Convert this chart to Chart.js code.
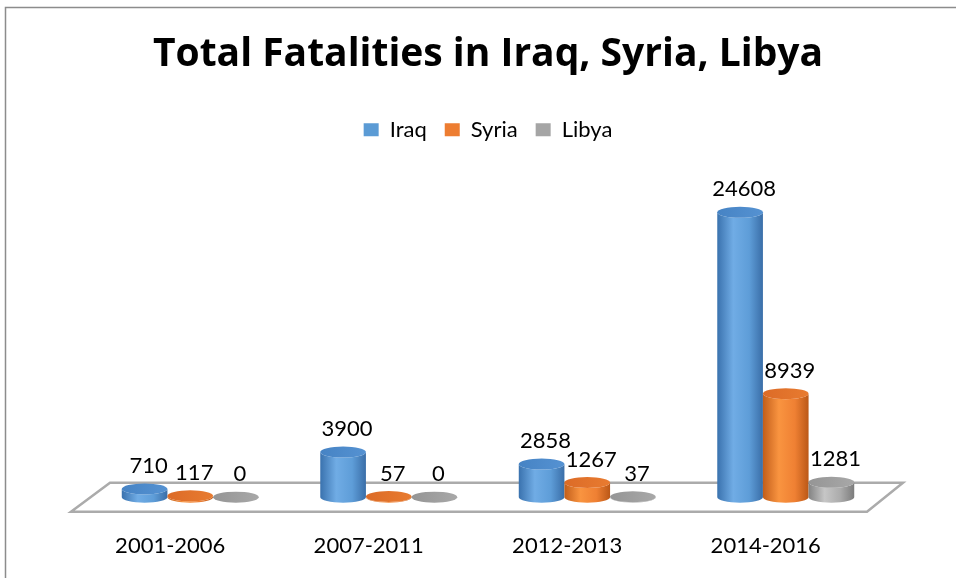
<!DOCTYPE html>
<html><head><meta charset="utf-8">
<script src="https://cdn.jsdelivr.net/npm/chart.js@4.4.1/dist/chart.umd.min.js"></script>
<style>html,body{margin:0;padding:0;background:#fff;}canvas{display:block;}</style>
</head><body>
<canvas id="c" width="956" height="578"></canvas>
<script>
const categories = ['2001-2006', '2007-2011', '2012-2013', '2014-2016'];
const seriesNames = ['Iraq', 'Syria', 'Libya'];
const iraq = [710, 3900, 2858, 24608];
const syria = [117, 57, 1267, 8939];
const libya = [0, 0, 37, 1281];
const colors = ['#5B9BD5', '#ED7D31', '#A5A5A5'];

const cylStyles = [
  {edge:'#3a72ae', light:'#70ace5', mid:'#5e9dd8', edge2:'#3a6ea8', top1:'#4683c4', top2:'#5592d2'},
  {edge:'#c25e1b', light:'#f99440', mid:'#ef8033', edge2:'#bb5817', top1:'#dc6b27', top2:'#e87b30'},
  {edge:'#838383', light:'#c6c6c6', mid:'#ababab', edge2:'#7c7c7c', top1:'#959595', top2:'#a8a8a8'}
];

function drawCyl(ctx, x, top, base, w, st) {
  const rx = w / 2, ry = 5.5, l = x - rx, r = x + rx;
  const g = ctx.createLinearGradient(l, 0, r, 0);
  g.addColorStop(0, st.edge); g.addColorStop(0.35, st.light);
  g.addColorStop(0.7, st.mid); g.addColorStop(1, st.edge2);
  ctx.beginPath();
  ctx.moveTo(l, top);
  ctx.lineTo(l, base);
  ctx.ellipse(x, base, rx, ry, 0, Math.PI, 0, true);
  ctx.lineTo(r, top);
  ctx.ellipse(x, top, rx, ry, 0, 0, Math.PI, false);
  ctx.closePath();
  ctx.fillStyle = g; ctx.fill();
  const gt = ctx.createLinearGradient(l, 0, r, 0);
  gt.addColorStop(0, st.top1); gt.addColorStop(1, st.top2);
  ctx.beginPath();
  ctx.ellipse(x, top, rx, ry, 0, 0, 2 * Math.PI);
  ctx.fillStyle = gt; ctx.fill();
}

const cylPlugin = {
  id: 'cyl',
  beforeDraw(chart) {
    const ctx = chart.ctx;
    ctx.save();
    ctx.strokeStyle = '#8c8c8c'; ctx.lineWidth = 1.5;
    ctx.beginPath(); ctx.moveTo(5.5, chart.height); ctx.lineTo(5.5, 7.5); ctx.lineTo(chart.width, 7.5); ctx.stroke();
    ctx.restore();
  },
  beforeDatasetsDraw(chart) {
    const ctx = chart.ctx, ca = chart.chartArea;
    const y0 = chart.scales.y.getPixelForValue(0);
    ctx.save();
    ctx.beginPath();
    ctx.moveTo(ca.left + 19, y0 - 14.5);
    ctx.lineTo(ca.right + 18, y0 - 14.5);
    ctx.lineTo(ca.right - 18, y0 + 14.5);
    ctx.lineTo(ca.left - 20, y0 + 14.5);
    ctx.closePath();
    ctx.fillStyle = '#ffffff'; ctx.fill();
    ctx.strokeStyle = '#ababab'; ctx.lineWidth = 2.5; ctx.stroke();
    chart.data.datasets.forEach((ds, di) => {
      const meta = chart.getDatasetMeta(di);
      meta.data.forEach((bar) => {
        drawCyl(ctx, bar.x, bar.y, bar.base, bar.width, cylStyles[di]);
      });
    });
    ctx.font = '22px Lato';
    ctx.fillStyle = '#000';
    ctx.textAlign = 'center';
    ctx.textBaseline = 'alphabetic';
    chart.data.datasets.forEach((ds, di) => {
      const meta = chart.getDatasetMeta(di);
      meta.data.forEach((bar, i) => {
        ctx.fillText(String(ds.data[i]), bar.x + 4, bar.y - 16);
      });
    });
    ctx.restore();
    return false;
  }
};

new Chart(document.getElementById('c'), {
  type: 'bar',
  data: {
    labels: categories,
    datasets: [
      {label: seriesNames[0], data: iraq, backgroundColor: colors[0]},
      {label: seriesNames[1], data: syria, backgroundColor: colors[1]},
      {label: seriesNames[2], data: libya, backgroundColor: colors[2]}
    ]
  },
  options: {
    responsive: false,
    animation: false,
    layout: {padding: {left: 91, right: 71, top: 0, bottom: 7}},
    datasets: {bar: {categoryPercentage: 0.69, barPercentage: 1, borderWidth: 0}},
    plugins: {
      title: {display: true, text: 'Total Fatalities in Iraq, Syria, Libya',
        font: {family: 'Open Sans', size: 39, weight: 'bold'}, color: '#000',
        padding: {top: 31, bottom: 23}},
      legend: {position: 'top', labels: {font: {family: 'Lato', size: 22}, color: '#000',
        boxWidth: 15, boxHeight: 13, padding: 18}},
      tooltip: {enabled: false}
    },
    scales: {
      x: {grid: {display: false, drawTicks: false}, border: {display: false},
        ticks: {font: {family: 'Lato', size: 22}, color: '#000', padding: 12, labelOffset: -20}},
      y: {display: false, min: -2021, max: 29922}
    }
  },
  plugins: [cylPlugin]
});
</script>
</body></html>
